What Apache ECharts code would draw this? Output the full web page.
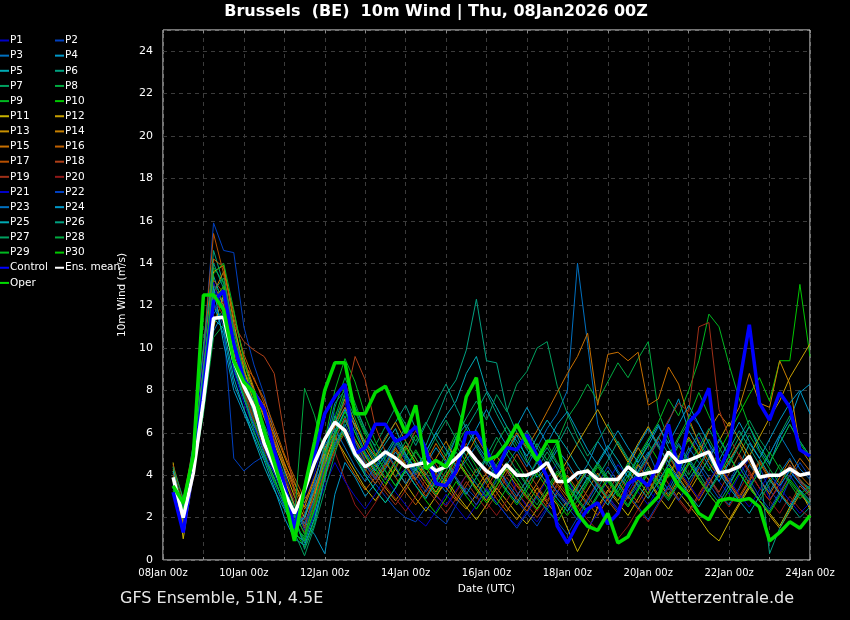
<!DOCTYPE html>
<html><head><meta charset="utf-8">
<script src="https://cdn.jsdelivr.net/npm/echarts@6/dist/echarts.min.js"></script>
<style>html,body{margin:0;padding:0;background:#000;}#c{width:850px;height:620px;}</style>
</head><body><div id="c"></div>
<script>
// ---- data ----
const tickLabels = ['08Jan 00z','10Jan 00z','12Jan 00z','14Jan 00z','16Jan 00z','18Jan 00z','20Jan 00z','22Jan 00z','24Jan 00z'];
const firstHour = 6;   // first value at 08Jan 06z
const stepHours = 6;   // 6-hourly values

const control = [3.2,1.3,4.4,8.0,12.2,12.7,10.2,8.5,7.9,7.1, 5.2,3.6,1.5,3.2,5.0,6.9,7.7,8.3,5.0,5.3, 6.4,6.4,5.6,5.8,6.3,5.2,3.6,3.5,4.2,6.0, 6.0,5.2,4.1,5.3,5.2,5.9,4.9,3.9,1.6,0.8, 1.7,2.4,2.7,1.7,2.2,3.6,3.9,3.5,4.6,6.4, 4.2,6.5,7.0,8.1,4.2,5.3,8.3,11.1,7.4,6.6, 7.9,7.2,5.2,4.9];
const ensMean = [3.9,2.0,4.1,7.5,11.4,11.45,9.4,8.2,7.2,5.5, 4.4,3.2,2.2,3.3,4.6,5.7,6.5,6.1,5.0,4.4, 4.7,5.1,4.8,4.4,4.5,4.6,4.2,4.4,4.8,5.3, 4.7,4.2,3.9,4.5,4.0,4.0,4.2,4.6,3.7,3.7, 4.1,4.2,3.8,3.8,3.8,4.4,4.0,4.1,4.2,5.1, 4.6,4.7,4.9,5.1,4.1,4.2,4.4,4.9,3.9,4.0, 4.0,4.3,4.0,4.1];
const oper = [3.5,2.7,4.9,12.5,12.5,11.8,9.4,8.4,7.9,6.1, 4.6,3.0,0.9,3.4,5.6,8.0,9.3,9.3,6.9,6.9, 7.9,8.2,7.1,6.0,7.3,4.3,4.7,4.4,5.3,7.7, 8.6,4.7,4.9,5.5,6.4,5.5,4.7,5.6,5.6,3.2, 2.2,1.6,1.4,2.2,0.8,1.1,2.0,2.5,3.0,4.3, 3.5,3.0,2.2,1.9,2.8,2.9,2.8,2.9,2.5,0.9, 1.3,1.8,1.5,2.1];

const p01 = [3.6,2.0,4.6,8.5,12.8,11.9,9.6,8.2,7.0,6.1, 4.8,3.4,2.0,2.6,4.1,5.8,6.9,7.4,5.6,4.8, 5.2,4.6,3.9,4.3,3.5,4.1,3.0,2.6,3.3,4.0, 3.6,2.9,3.8,4.4,3.2,2.5,3.0,3.8,4.6,3.9, 2.8,2.2,3.0,3.7,4.5,3.9,3.2,2.6,3.4,4.2, 3.6,5.0,5.8,4.9,3.7,3.1,4.0,4.8,3.9,2.9, 3.4,4.3,3.6,3.0];
const p02 = [3.4,1.8,4.9,9.8,15.9,14.6,14.5,11.0,9.2,7.8, 6.0,4.2,2.6,1.4,2.9,5.0,6.3,7.2,5.0,4.1, 3.6,3.0,2.4,2.0,1.8,2.5,2.1,1.7,2.6,3.4, 2.9,3.8,4.5,3.6,2.8,2.2,1.6,2.4,3.1,2.5, 1.9,2.8,3.6,4.4,3.7,2.9,3.5,4.8,5.6,4.3, 3.8,6.9,6.4,5.5,4.1,3.6,2.8,3.5,4.4,3.3, 2.7,3.8,4.6,3.9];
const p03 = [3.9,2.3,4.2,7.4,11.6,12.3,10.1,8.6,6.9,5.4, 4.6,3.5,2.2,1.9,3.6,5.5,7.4,8.0,6.2,5.1, 4.4,4.9,5.6,4.8,4.0,4.6,3.8,3.2,4.1,4.7, 5.4,4.6,3.9,4.5,5.2,4.4,5.3,6.2,6.9,8.0, 14.0,10.2,6.4,5.1,4.2,3.6,4.4,5.1,4.0,3.3, 4.2,5.3,4.6,3.9,3.1,2.6,3.4,4.5,3.8,3.2, 4.1,4.8,3.7,3.4];
const p04 = [4.1,2.4,4.4,7.9,12.1,10.6,8.3,7.1,6.0,4.9, 3.9,2.6,1.5,1.8,1.2,0.3,3.1,4.6,3.9,3.0, 3.6,4.3,5.1,4.4,3.8,4.5,5.3,4.6,5.8,6.4, 5.5,4.8,4.2,5.0,5.9,4.7,3.9,4.4,5.2,4.6, 3.8,4.5,5.6,4.9,4.1,3.4,4.2,5.0,5.8,6.5, 7.6,6.1,5.3,4.4,3.7,4.6,5.5,6.3,5.2,4.5, 5.8,6.6,7.9,8.3];
const p05 = [3.5,2.6,4.8,8.9,13.4,12.0,9.0,7.6,6.3,5.6, 4.4,3.0,1.2,0.9,2.2,4.4,6.1,7.0,6.4,5.5, 4.8,5.5,6.2,5.0,4.3,5.1,6.0,6.8,7.5,8.8, 9.6,8.0,7.2,6.3,5.6,4.9,5.8,6.6,5.9,5.2, 4.4,3.8,4.6,5.4,4.7,3.9,4.8,5.6,6.4,5.3, 4.6,3.8,4.5,5.2,4.3,3.6,4.4,5.5,4.8,4.0, 3.5,4.2,3.6,3.1];
const p06 = [3.7,2.2,5.0,9.1,14.6,13.0,10.4,8.4,6.8,5.9, 5.0,3.7,1.8,0.8,2.4,4.2,5.6,6.8,5.3,4.2, 4.9,5.8,6.5,7.3,6.2,5.4,6.6,7.8,8.5,9.9, 12.3,9.4,9.3,7.1,6.0,5.2,4.6,5.3,4.5,3.8, 3.2,2.6,3.4,4.2,3.5,2.9,3.7,4.4,3.8,3.1, 4.0,4.8,4.1,3.3,2.7,3.5,4.4,3.6,2.8,2.3, 3.1,2.6,2.0,2.5];
const p07 = [4.3,2.5,4.1,7.0,11.2,11.8,9.9,8.9,7.7,6.4, 5.3,4.0,2.4,1.6,3.0,5.2,6.5,7.9,7.1,6.0, 5.4,6.3,7.2,6.4,5.6,6.5,5.7,4.9,5.8,6.7, 7.5,6.6,7.8,7.0,8.3,8.9,10.0,10.3,8.2,6.9, 5.8,4.9,5.6,6.4,5.5,4.7,5.4,6.2,5.3,4.6, 5.7,6.5,5.6,4.8,4.0,4.9,5.8,6.6,5.7,5.0, 5.9,6.8,5.6,4.9];
const p08 = [3.8,2.1,4.5,8.0,13.0,12.4,10.2,8.0,6.6,5.5, 4.1,2.9,1.6,1.1,2.7,4.9,7.2,8.6,7.4,6.1, 5.0,4.2,3.5,4.3,5.1,4.4,3.6,4.5,5.4,6.2, 5.3,4.5,5.5,6.3,5.4,4.6,5.5,4.7,5.6,6.7, 7.4,8.3,7.5,8.4,9.3,8.6,9.5,10.3,7.0,5.7, 4.8,4.0,4.9,5.7,4.8,4.1,5.0,5.9,5.1,4.3, 3.6,4.4,3.8,3.3];
const p09 = [4.0,2.7,5.2,9.4,13.8,13.1,11.0,9.1,7.3,6.0, 4.6,3.2,1.9,0.9,2.5,5.6,8.0,9.5,8.4,6.8, 5.6,4.7,3.9,4.8,5.9,5.0,4.1,5.0,6.0,5.2, 4.4,3.6,4.5,5.3,4.6,3.8,4.7,5.5,4.6,3.9, 3.1,3.8,4.6,3.9,3.2,4.0,4.9,5.7,6.5,7.6, 6.8,8.0,9.4,11.6,11.0,9.2,7.6,6.3,5.4,4.6, 5.5,6.4,5.5,4.8];
const p10 = [3.3,1.9,4.3,7.7,12.0,11.3,9.3,7.8,6.6,5.1, 3.8,2.7,1.4,0.6,1.9,4.0,5.3,6.1,5.0,4.0, 3.3,2.7,3.4,4.2,3.5,2.8,2.2,2.9,3.7,3.0, 2.4,3.1,3.9,3.2,2.6,3.3,4.1,3.4,2.7,2.1, 2.8,3.6,4.4,3.7,3.0,3.8,4.6,5.5,4.7,3.9, 4.8,5.7,4.9,4.2,5.1,6.0,6.9,7.8,8.6,7.5, 9.4,9.4,13.0,9.6];
const p11 = [4.6,1.0,4.0,7.2,11.0,12.5,10.8,9.3,8.0,6.7, 5.5,4.3,3.0,2.0,3.2,4.6,5.8,5.0,4.2,3.4, 2.8,3.5,4.3,3.6,2.9,2.3,3.0,3.8,3.1,2.5, 1.9,2.6,3.4,2.8,2.2,1.7,2.4,3.2,2.6,1.5, 0.4,1.3,2.5,3.3,2.7,2.1,2.9,3.7,3.0,2.4, 3.2,2.6,2.0,1.3,0.9,1.8,2.6,3.4,2.8,2.2, 1.6,2.5,3.3,2.4];
const p12 = [4.2,1.5,4.4,8.2,13.6,13.9,11.2,9.0,7.4,6.2, 5.0,3.8,2.6,1.7,3.0,5.0,6.4,7.6,6.5,5.3, 4.5,3.8,4.6,5.4,4.6,3.9,3.2,4.0,4.8,4.1, 3.4,2.8,3.5,4.3,3.7,3.0,2.4,3.1,3.9,4.7, 5.5,6.3,7.1,6.2,5.4,4.6,5.5,6.3,5.4,4.6, 3.9,3.2,4.0,4.8,5.6,6.5,5.7,4.9,5.8,6.7, 7.5,8.6,9.4,10.2];
const p13 = [3.9,1.7,4.7,8.8,13.0,12.0,9.8,8.6,7.9,7.1, 5.9,4.6,3.4,2.5,3.8,5.3,6.0,6.6,5.7,4.9, 4.1,3.4,2.8,3.5,4.3,3.6,3.0,3.7,2.9,2.4, 3.1,3.9,3.2,2.5,1.9,2.6,3.4,2.7,2.1,2.8, 3.6,4.3,3.5,2.8,3.6,4.4,5.3,4.5,3.7,3.0, 3.8,4.6,3.8,3.1,2.5,1.9,2.7,3.5,2.8,2.1, 1.5,2.3,3.1,2.6];
const p14 = [4.4,2.2,4.9,8.6,12.6,13.6,11.7,9.5,8.1,6.8, 5.6,4.5,3.6,2.7,3.9,5.1,6.3,7.2,6.3,5.6, 4.9,5.7,6.5,5.6,4.8,4.0,4.8,5.6,4.7,4.0, 3.4,4.1,4.9,4.2,3.5,2.9,3.6,4.4,3.6,3.0, 2.5,3.3,4.1,3.4,2.8,3.6,4.5,3.8,3.1,4.0, 4.9,5.8,5.0,6.1,6.9,6.3,7.2,8.8,7.4,7.2, 9.4,8.3,5.3,4.6];
const p15 = [3.7,2.0,4.3,7.8,12.3,12.9,10.5,8.9,8.0,7.3, 6.1,4.9,3.7,2.4,3.2,4.5,5.4,6.2,5.3,4.5, 3.8,4.5,5.3,4.5,3.8,4.6,5.5,4.7,4.0,4.9, 5.8,5.0,4.3,5.2,6.0,5.3,6.1,7.0,7.9,8.8, 9.6,10.7,7.3,9.7,9.8,9.4,9.8,7.3,7.6,9.1, 8.3,6.7,5.5,4.6,3.9,4.7,5.5,4.6,3.8,3.1, 3.9,4.7,4.0,3.5];
const p16 = [4.0,2.4,5.1,9.2,14.2,13.8,11.4,9.7,8.5,7.6, 6.3,5.0,3.9,2.9,3.5,4.7,5.9,4.8,4.0,3.3, 3.9,4.6,3.9,3.2,2.6,3.3,4.1,3.4,2.8,3.5, 4.3,3.6,2.9,2.3,3.0,3.8,3.1,2.5,3.2,4.0, 3.3,2.7,2.1,2.9,3.7,3.0,2.4,3.2,4.1,5.0, 4.2,3.5,2.8,3.6,4.4,3.6,2.9,3.7,4.6,3.8, 3.1,4.0,4.8,4.2];
const p17 = [4.5,2.8,5.4,9.9,15.4,13.5,10.8,9.2,8.6,7.4, 5.7,4.4,3.3,2.2,2.8,4.1,5.2,6.0,5.1,4.3, 3.6,4.4,5.2,4.4,3.7,3.0,3.8,4.6,3.9,3.2, 2.6,3.4,4.2,3.5,2.9,2.3,3.1,3.9,3.2,2.6, 3.4,4.2,3.5,2.8,2.2,3.0,3.8,3.1,4.0,4.9, 4.1,3.4,4.3,5.2,4.4,3.7,3.0,3.8,4.7,3.9, 3.2,2.6,3.5,3.0];
const p18 = [3.8,2.3,4.8,8.4,13.2,12.6,11.1,10.3,9.9,9.6, 8.8,5.9,3.1,1.5,3.3,4.8,6.5,7.4,9.6,8.5, 6.3,5.1,4.3,5.2,6.1,5.3,4.5,3.8,4.6,5.5, 4.7,4.0,3.3,4.1,5.0,4.2,3.5,2.8,3.6,4.4, 3.7,3.0,2.4,3.2,4.0,3.3,2.7,3.5,4.3,3.6, 2.9,2.3,3.1,3.9,3.2,4.1,5.0,4.2,3.4,2.8, 3.6,4.5,3.8,3.2];
const p19 = [3.6,2.1,4.5,8.0,12.4,11.5,9.4,7.9,6.5,5.2, 4.2,3.3,2.1,1.3,2.6,4.3,5.7,6.7,5.6,4.6, 3.9,3.2,2.6,3.3,4.1,3.4,2.8,2.2,2.9,3.7, 3.0,2.4,3.1,3.9,3.2,2.6,2.0,2.7,3.5,2.8, 2.2,2.9,3.7,3.0,2.4,3.2,4.0,4.8,5.7,6.6, 7.4,7.0,11.0,11.2,7.1,5.8,4.9,4.1,3.4,2.8, 3.6,4.4,3.7,3.1];
const p20 = [4.1,2.6,4.6,7.5,11.8,12.2,9.9,8.1,6.7,5.9, 4.9,3.9,2.8,1.9,2.5,3.9,5.1,3.8,2.6,2.0, 2.7,3.5,2.9,2.3,3.0,3.8,3.1,2.5,3.2,4.0, 3.3,2.7,2.1,2.8,3.6,2.9,2.3,3.0,3.8,3.1, 2.5,1.9,1.4,2.1,1.0,1.6,2.4,1.8,2.6,3.4, 2.8,2.2,3.0,3.8,3.1,2.5,3.3,4.1,3.4,2.8, 2.2,3.0,2.4,2.0];
const p21 = [3.4,2.2,5.3,9.5,13.1,11.6,8.9,7.4,6.2,5.3, 4.1,3.0,1.7,1.0,2.2,3.5,4.6,3.7,3.0,2.4, 3.1,3.9,3.2,2.6,2.0,1.6,2.3,3.1,2.5,1.9, 2.6,3.4,2.7,2.1,1.6,2.3,1.8,2.5,3.3,2.7, 2.1,1.5,2.2,3.0,2.4,3.2,4.0,3.3,2.7,3.5, 4.3,3.6,2.9,3.7,4.5,3.8,3.1,2.5,3.3,4.1, 3.4,2.8,2.2,2.7];
const p22 = [3.5,2.5,4.5,8.6,12.2,11.0,4.8,4.2,4.6,4.9, 4.1,3.4,2.3,1.7,2.9,4.4,5.4,6.4,5.4,4.5, 3.8,4.6,5.5,4.7,3.9,3.2,3.9,4.7,3.9,3.2, 2.6,3.3,2.7,2.1,1.5,2.2,3.0,2.3,1.8,1.2, 2.0,2.8,3.6,2.9,2.3,3.1,2.5,1.9,2.7,3.5, 2.8,3.6,4.4,3.6,2.9,3.7,4.6,3.8,3.0,2.4, 3.2,4.0,3.3,2.6];
const p23 = [3.9,2.0,4.1,7.1,10.8,11.7,9.1,7.7,6.4,5.0, 3.6,2.5,1.6,2.1,3.7,5.4,6.2,5.3,4.4,3.7, 4.4,5.2,4.4,3.6,4.3,5.1,4.3,3.6,4.5,5.3, 6.1,5.2,4.4,3.7,3.0,3.8,4.6,3.9,3.2,2.6, 3.4,4.2,3.5,2.9,3.7,4.5,5.4,6.2,5.4,4.6, 5.5,4.7,4.0,4.8,5.7,4.9,4.1,3.4,4.2,5.0, 5.9,5.1,4.3,3.8];
const p24 = [3.6,2.7,4.9,9.0,12.9,10.2,8.0,6.9,5.8,4.7, 3.4,2.0,1.0,0.7,2.0,3.8,5.9,7.1,6.0,5.0, 4.2,5.0,5.8,5.0,4.2,5.1,6.0,5.2,4.4,5.3, 6.2,7.1,6.2,5.4,6.3,7.2,6.3,5.5,6.4,7.0, 6.1,5.2,4.5,5.3,6.1,5.3,4.6,5.4,6.3,5.5, 6.4,7.3,6.4,5.5,4.7,5.6,6.5,5.6,4.8,5.7, 6.6,7.4,8.0,6.9];
const p25 = [4.2,2.3,4.4,7.6,11.4,10.9,8.6,7.1,5.7,4.4, 3.3,2.4,1.5,2.0,3.4,4.9,6.8,5.8,4.8,4.0, 3.3,2.7,3.4,4.2,3.5,2.9,3.7,4.6,3.8,3.1, 3.9,4.8,4.0,3.3,2.7,3.5,4.3,3.6,2.9,2.3, 3.1,3.9,3.2,2.6,3.4,4.2,3.5,2.9,3.7,4.5, 3.8,3.1,2.5,3.3,4.1,3.4,2.8,2.2,3.0,3.8, 3.1,2.5,3.3,2.8];
const p26 = [3.8,2.4,5.5,10.1,14.0,12.8,10.0,8.3,7.5,6.3, 5.0,3.6,2.2,0.5,1.7,3.9,5.5,6.3,7.2,6.2, 5.3,4.5,5.4,6.3,5.4,6.4,7.4,8.3,7.2,6.2, 7.0,7.9,6.9,6.0,5.2,6.1,5.3,4.5,5.4,6.3, 5.4,4.6,3.9,4.7,5.6,4.8,4.1,4.9,5.8,5.0, 4.2,5.1,6.0,5.1,4.3,5.2,6.1,5.3,4.5,0.3, 1.5,2.4,3.2,2.6];
const p27 = [4.4,2.9,4.7,8.3,12.7,13.3,10.9,8.8,7.2,5.8, 4.5,3.1,1.3,0.2,1.6,3.3,5.0,6.6,5.6,4.7, 4.0,4.8,5.7,4.9,4.1,4.9,5.8,6.6,5.7,4.9, 4.1,4.9,5.8,5.0,4.2,3.5,4.3,5.1,4.3,3.6, 2.9,3.7,4.5,3.8,3.1,2.5,3.3,4.1,3.4,2.8, 3.6,4.5,5.3,6.2,5.3,4.5,5.4,6.3,5.4,4.6, 5.5,6.4,5.6,4.9];
const p28 = [3.5,2.2,4.0,6.9,10.5,11.1,9.2,7.7,6.1,4.8, 3.7,2.8,2.0,8.1,6.8,5.0,6.0,7.8,6.7,5.5, 4.6,3.9,4.7,5.6,4.8,4.1,3.4,4.2,5.1,4.3, 3.6,3.0,3.7,4.6,3.9,3.2,2.6,3.4,4.2,3.5, 2.9,2.3,3.1,3.9,3.2,2.6,3.4,4.3,3.6,4.5, 5.4,4.6,3.9,3.2,4.0,4.9,4.1,3.4,2.8,3.6, 4.5,3.7,3.1,3.5];
const p29 = [3.9,2.6,5.0,8.7,13.5,14.0,11.8,9.4,7.6,6.2, 4.9,3.5,2.3,1.2,2.8,4.6,6.7,8.2,7.0,5.9, 5.0,4.2,3.5,4.3,5.2,4.4,3.7,4.5,5.4,4.6, 3.9,3.2,2.6,3.4,4.3,3.6,2.9,2.4,1.8,2.6, 3.5,4.3,3.6,2.9,3.7,4.6,3.8,3.1,4.0,4.9, 5.8,6.7,7.9,6.8,5.8,4.9,4.1,3.4,4.2,5.1, 4.3,3.6,2.9,3.3];
const p30 = [3.7,2.4,4.6,8.1,12.2,12.9,10.6,8.7,7.0,5.7, 4.4,3.0,1.7,1.0,2.4,4.1,5.8,7.0,6.0,5.0, 4.3,3.6,4.4,5.3,4.5,3.8,3.1,3.9,4.8,4.0, 3.3,2.7,3.5,4.4,3.7,3.0,2.4,3.2,4.1,3.4, 2.8,2.2,3.0,3.8,3.1,2.5,3.3,4.2,3.5,2.9, 3.7,4.6,3.8,3.1,2.5,3.3,4.1,3.4,2.8,2.2, 3.0,3.8,3.2,2.7];

// ---- styling ----
const perts = [p01,p02,p03,p04,p05,p06,p07,p08,p09,p10,p11,p12,p13,p14,p15,p16,p17,p18,p19,p20,p21,p22,p23,p24,p25,p26,p27,p28,p29,p30];
const pertColors = ['#0000c8','#0040c0','#0070c0','#0098c8','#00aab4','#00a080','#00a060','#00aa40','#00b820','#00c800',
                    '#c8b400','#c8a000','#c89000','#c88000','#c87000','#c06000','#b85000','#b04018','#a03018','#901818'];

const toPts = arr => arr.map((v, i) => [firstHour + i * stepHours, v]);
const FONT = 'DejaVu Sans';

const series = [];
perts.forEach((arr, k) => {
  series.push({ name: 'P' + (k + 1), type: 'line', data: toPts(arr), symbol: 'none', animation: false,
    lineStyle: { width: 1, color: pertColors[k % 20] }, itemStyle: { color: pertColors[k % 20] }, z: 2 });
});
series.push({ name: 'Control', type: 'line', data: toPts(control), symbol: 'none', animation: false,
  lineStyle: { width: 3.5, color: '#0000ff' }, itemStyle: { color: '#0000ff' }, z: 3 });
series.push({ name: 'Ens. mean', type: 'line', data: toPts(ensMean), symbol: 'none', animation: false,
  lineStyle: { width: 3.5, color: '#ffffff' }, itemStyle: { color: '#ffffff' }, z: 4 });
series.push({ name: 'Oper', type: 'line', data: toPts(oper), symbol: 'none', animation: false,
  lineStyle: { width: 3.5, color: '#00dd00' }, itemStyle: { color: '#00dd00' }, z: 5 });

const leftNames = [], rightNames = [];
for (let k = 1; k <= 30; k++) (k % 2 ? leftNames : rightNames).push('P' + k);
leftNames.push('Control', 'Oper');
rightNames.push('Ens. mean');

const legendBase = { orient: 'vertical', top: 33, icon: 'rect', itemWidth: 9, itemHeight: 2, itemGap: 0.15,
  padding: 0, selectedMode: false, textStyle: { color: '#ffffff', fontSize: 10.5, lineHeight: 15, fontFamily: FONT, padding: [0,0,0,-4] } };

const chart = echarts.init(document.getElementById('c'), null, { renderer: 'canvas' });
chart.setOption({
  backgroundColor: '#000000',
  animation: false,
  grid: { left: 163, right: 40, top: 30, bottom: 60, show: true, borderColor: '#e8e8e8', borderWidth: 1, backgroundColor: '#000000' },
  legend: [
    Object.assign({}, legendBase, { left: 0, data: leftNames }),
    Object.assign({}, legendBase, { left: 55, data: rightNames })
  ],
  xAxis: [{
    type: 'value', min: 0, max: 384, interval: 24,
    name: 'Date (UTC)', nameLocation: 'middle', nameGap: 24,
    nameTextStyle: { color: '#ffffff', fontSize: 10.5, fontFamily: FONT },
    axisLine: { show: false },
    axisTick: { show: true, inside: true, length: 3, lineStyle: { color: '#888' } },
    axisLabel: { color: '#ffffff', fontSize: 10, fontFamily: FONT, margin: 8,
      formatter: v => (v % 48 === 0 ? tickLabels[v / 48] : '') },
    splitLine: { show: true, lineStyle: { color: '#3c3c3c', type: [4, 4], width: 1 } }
  }, {
    type: 'value', min: 0, max: 384, interval: 24, position: 'top',
    axisLine: { show: false }, axisLabel: { show: false }, splitLine: { show: false },
    axisTick: { show: true, inside: true, length: 3, lineStyle: { color: '#888' } }
  }],
  yAxis: {
    type: 'value', min: 0, max: 25, interval: 2,
    name: '10m Wind (m/s)', nameLocation: 'middle', nameGap: 16, nameRotate: 90,
    nameTextStyle: { color: '#ffffff', fontSize: 10.5, fontFamily: FONT },
    axisLine: { show: false }, axisTick: { show: false },
    axisLabel: { color: '#ffffff', fontSize: 11, fontFamily: FONT, margin: 10,
      formatter: v => (v % 2 === 0 ? String(v) : '') },
    splitLine: { show: true, lineStyle: { color: '#3c3c3c', type: [4, 4], width: 1 } }
  },
  graphic: [
    { type: 'text', x: 436, y: 12, silent: true,
      style: { text: 'Brussels  (BE)  10m Wind | Thu, 08Jan2026 00Z', fill: '#ffffff',
        font: 'bold 16px "DejaVu Sans"', textAlign: 'center', textVerticalAlign: 'middle' } },
    { type: 'text', x: 120, y: 599, silent: true,
      style: { text: 'GFS Ensemble, 51N, 4.5E', fill: '#e8e8e8',
        font: '16px "DejaVu Sans"', textAlign: 'left', textVerticalAlign: 'middle' } },
    { type: 'text', x: 794, y: 599, silent: true,
      style: { text: 'Wetterzentrale.de', fill: '#e8e8e8',
        font: '16px "DejaVu Sans"', textAlign: 'right', textVerticalAlign: 'middle' } }
  ],
  series: series
});
</script>
</body></html>
